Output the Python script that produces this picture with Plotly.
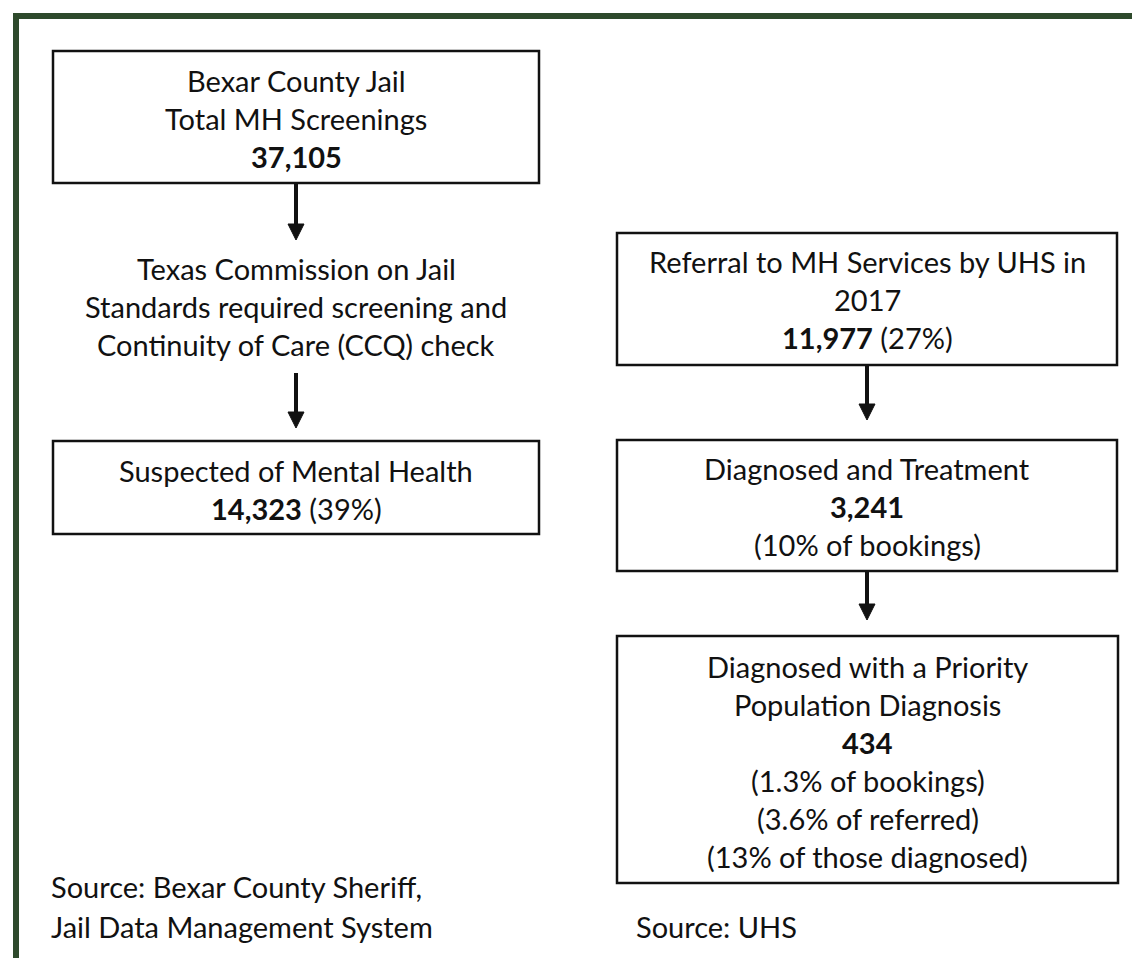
import plotly.graph_objects as go

# ---------------- data ----------------
node_titles = [
    ["Bexar County Jail", "Total MH Screenings"],
    ["Suspected of Mental Health"],
    ["Referral to MH Services by UHS in", "2017"],
    ["Diagnosed and Treatment"],
    ["Diagnosed with a Priority", "Population Diagnosis"],
]
node_counts = [37105, 14323, 11977, 3241, 434]
node_count_suffix = ["", " (39%)", " (27%)", "", ""]
node_notes = [
    [],
    [],
    [],
    ["(10% of bookings)"],
    ["(1.3% of bookings)", "(3.6% of referred)", "(13% of those diagnosed)"],
]
middle_text = ["Texas Commission on Jail",
               "Standards required screening and",
               "Continuity of Care (CCQ) check"]
source_left = ["Source: Bexar County Sheriff,", "Jail Data Management System"]
source_right = ["Source: UHS"]

# ---------------- layout (pixel geometry) ----------------
W, H = 1140, 958
FONT = "Lato, 'Open Sans', sans-serif"
FS = 29
TXT = "#111111"
LINE_H = 38
# boxes: x0, x1, y0, y1, first text line center
boxes = [
    (45, 531, 43, 175, 72),
    (45, 531, 433, 526, 462),
    (609, 1109, 225, 357, 253),
    (609, 1109, 432, 563, 460),
    (609, 1110, 628, 875, 658),
]
arrows = [  # x, y_start, y_tip
    (288, 175, 232),
    (288, 365, 420),
    (859, 357, 412),
    (859, 563, 612),
]

fig = go.Figure()
shapes = []
annotations = []

def add_text(x, y, text, xanchor="center"):
    annotations.append(dict(
        x=x, y=y, xref="x", yref="y", text=text, showarrow=False,
        xanchor=xanchor, yanchor="middle",
        font=dict(family=FONT, size=FS, color=TXT),
    ))

for i, (x0, x1, y0, y1, ty) in enumerate(boxes):
    shapes.append(dict(type="rect", xref="x", yref="y", x0=x0, x1=x1, y0=y0, y1=y1,
                       line=dict(color="#111111", width=2.5), fillcolor="white", layer="below"))
    cx = (x0 + x1) / 2
    lines = list(node_titles[i])
    lines.append("<b>{:,}</b>{}".format(node_counts[i], node_count_suffix[i]))
    lines += node_notes[i]
    for k, t in enumerate(lines):
        add_text(cx, ty + k * LINE_H, t)

for (x, ys, yt) in arrows:
    head = 16
    shapes.append(dict(type="line", xref="x", yref="y", x0=x, x1=x, y0=ys, y1=yt - head + 2,
                       line=dict(color="#111111", width=4)))
    shapes.append(dict(type="path", xref="x", yref="y",
                       path=f"M {x-8},{yt-head} L {x+8},{yt-head} L {x},{yt} Z",
                       fillcolor="#111111", line=dict(color="#111111", width=1)))

for k, t in enumerate(middle_text):
    add_text(288, 260 + k * LINE_H, t)

for k, t in enumerate(source_left):
    add_text(41, 878 + k * 40, t, xanchor="left")
for k, t in enumerate(source_right):
    add_text(626, 918 + k * 40, t, xanchor="left")

# outer green frame
GREEN = "#2e4a2c"
shapes.append(dict(type="line", xref="x", yref="y", x0=5, x1=W, y0=8, y1=8,
                   line=dict(color=GREEN, width=6)))
shapes.append(dict(type="line", xref="x", yref="y", x0=8, x1=8, y0=5, y1=H,
                   line=dict(color=GREEN, width=6)))

fig.update_layout(
    width=W, height=H,
    margin=dict(l=0, r=0, t=0, b=0),
    paper_bgcolor="white", plot_bgcolor="white",
    xaxis=dict(range=[0, W], visible=False, fixedrange=True),
    yaxis=dict(range=[H, 0], visible=False, fixedrange=True),
    shapes=shapes, annotations=annotations, showlegend=False,
)

fig.write_html("out.html")
